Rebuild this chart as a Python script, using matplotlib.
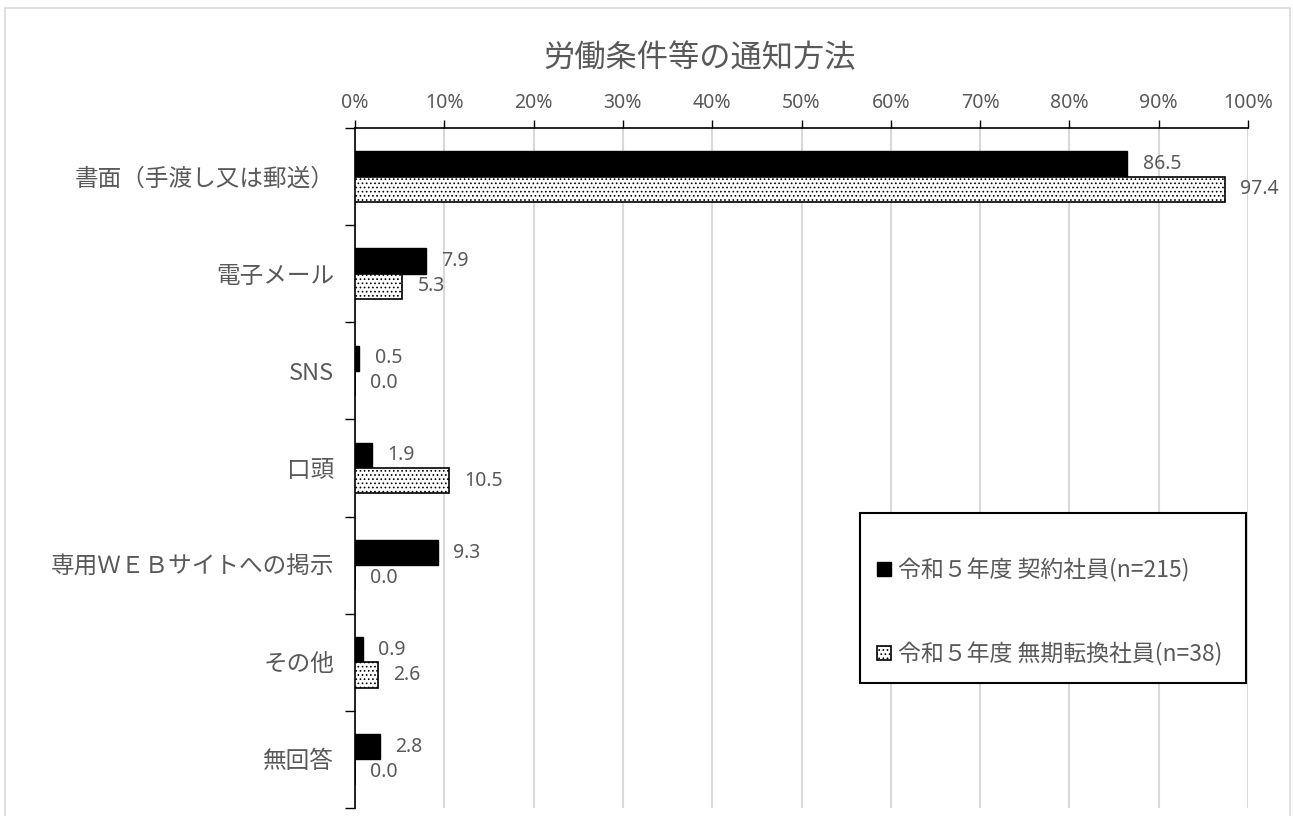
import numpy as np
import matplotlib.pyplot as plt
import matplotlib.patches as mpatches
from matplotlib.ticker import MultipleLocator, FixedLocator, PercentFormatter

plt.rcParams['font.family'] = ['Noto Sans CJK JP', 'DejaVu Sans']
plt.rcParams['hatch.linewidth'] = 0.7

categories = ['書面（手渡し又は郵送）', '電子メール', 'SNS', '口頭',
              '専用ＷＥＢサイトへの掲示', 'その他', '無回答']
contract = [86.5, 7.9, 0.5, 1.9, 9.3, 0.9, 2.8]
indefinite = [97.4, 5.3, 0.0, 10.5, 0.0, 2.6, 0.0]
series_names = ['令和５年度 契約社員(n=215)', '令和５年度 無期転換社員(n=38)']

gray = '#595959'
num_font = ['Noto Sans', 'DejaVu Sans']
W, H = 1293, 816

fig = plt.figure(figsize=(W / 100, H / 100), dpi=100)
# outer chart frame (bottom is cropped off)
fig.patches.append(mpatches.Rectangle((5 / W, -0.05), 1285 / W, 1.05 - 8 / H,
                                      transform=fig.transFigure, fill=False,
                                      edgecolor='#d9d9d9', linewidth=1.2))

ax = fig.add_axes([355 / W, 1 - 808 / H, 893 / W, 680 / H])

y = np.arange(len(categories))
h = 0.26
b1 = ax.barh(y - h / 2, contract, height=h, color='black', edgecolor='black',
             linewidth=1, zorder=3)
b2 = ax.barh(y + h / 2, indefinite, height=h, color='white', edgecolor='black',
             hatch='....', linewidth=1.2, zorder=3)

for bars, vals in ((b1, contract), (b2, indefinite)):
    for bar, v in zip(bars, vals):
        ax.annotate(f'{v:.1f}', (v, bar.get_y() + bar.get_height() / 2),
                    xytext=(11, 0), textcoords='offset points',
                    va='center', ha='left', fontsize=14, color=gray,
                    family=num_font)

ax.set_xlim(0, 100)
ax.set_ylim(len(categories) - 0.5, -0.5)
ax.xaxis.set_major_locator(MultipleLocator(10))
ax.xaxis.set_major_formatter(PercentFormatter(decimals=0))
ax.xaxis.tick_top()
ax.tick_params(axis='x', direction='out', length=6, width=1, color='black',
               labelsize=14, labelcolor=gray, pad=5)
for lab in ax.get_xticklabels():
    lab.set_family(num_font)
ax.grid(axis='x', color='#d9d9d9', linewidth=1.5, zorder=0)

ax.set_yticks(y)
ax.set_yticklabels(categories, fontsize=17, color=gray)
ax.tick_params(axis='y', which='major', length=0, pad=15)
ax.yaxis.set_minor_locator(FixedLocator(np.arange(-0.5, len(categories), 1.0)))
ax.tick_params(axis='y', which='minor', length=7, width=1, color='black')

for s in ('right', 'bottom'):
    ax.spines[s].set_visible(False)
ax.spines['top'].set_linewidth(1.2)
ax.spines['left'].set_linewidth(1.2)

fig.text(700 / W, 1 - 58 / H, '労働条件等の通知方法', fontsize=22.5, color=gray,
         ha='center', va='center')

# legend box
bx0 = (860 - 355) / 893
by0 = 1 - (683 - 128) / 680
ax.add_patch(mpatches.Rectangle((bx0, by0), (1246 - 860) / 893, 170 / 680,
                                transform=ax.transAxes, facecolor='white',
                                edgecolor='black', linewidth=1.5, zorder=5))
leg = ax.legend([b1, b2], series_names, loc='center left',
                bbox_to_anchor=((877 - 355) / 893, 1 - (612 - 128) / 680),
                frameon=False, borderaxespad=0, borderpad=0,
                fontsize=16.5, labelspacing=2.6, handlelength=0.6,
                handleheight=0.6, handletextpad=0.3, labelcolor=gray)
leg.set_zorder(6)

fig.savefig('out.png', dpi=100)
